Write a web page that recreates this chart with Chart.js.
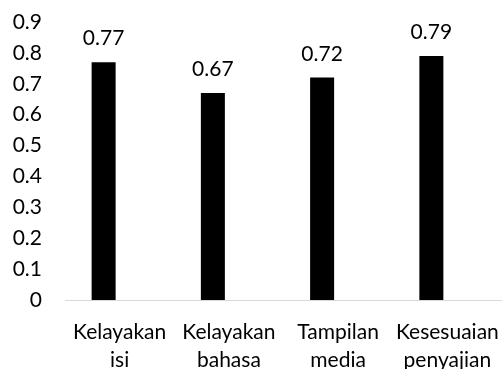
<!DOCTYPE html>
<html>
<head>
<meta charset="utf-8">
<script src="https://cdn.jsdelivr.net/npm/chart.js@4"></script>
<style>
  html, body { margin: 0; padding: 0; background: #fff; }
  #wrap { width: 502px; height: 369px; }
</style>
</head>
<body>
<div id="wrap"><canvas id="c" width="502" height="369"></canvas></div>
<script>
// Aspect categories (two-line labels) and their scores
const categories = [
  ['Kelayakan', 'isi'],
  ['Kelayakan', 'bahasa'],
  ['Tampilan', 'media'],
  ['Kesesuaian', 'penyajian']
];
const scores = [0.77, 0.67, 0.72, 0.79];
const yTicks = [0, 0.1, 0.2, 0.3, 0.4, 0.5, 0.6, 0.7, 0.8, 0.9];

const FONT = 'Lato, "Open Sans", sans-serif';
const FONT_SIZE = 21;

// Value labels above each bar of the score series
const valueLabels = {
  id: 'valueLabels',
  afterDatasetsDraw(chart) {
    const ctx = chart.ctx;
    const meta = chart.getDatasetMeta(0);
    ctx.save();
    ctx.font = FONT_SIZE + 'px ' + FONT;
    ctx.fillStyle = '#000';
    ctx.textAlign = 'center';
    ctx.textBaseline = 'alphabetic';
    meta.data.forEach((bar, i) => {
      ctx.fillText(scores[i].toFixed(2), bar.x, bar.y - 17);
    });
    ctx.restore();
  }
};

new Chart(document.getElementById('c'), {
  type: 'bar',
  data: {
    labels: categories,
    datasets: [
      {
        data: scores,
        backgroundColor: '#000000',
        borderWidth: 0,
        barPercentage: 0.75,
        categoryPercentage: 0.586
      },
      {
        // empty companion series: keeps each score bar in the left slot of its group
        data: categories.map(() => null),
        backgroundColor: 'rgba(0,0,0,0)',
        borderWidth: 0,
        barPercentage: 0.75,
        categoryPercentage: 0.586
      }
    ]
  },
  options: {
    responsive: false,
    animation: false,
    events: [],
    layout: { padding: { top: 22, right: 0, left: 0, bottom: 0 } },
    plugins: {
      legend: { display: false },
      tooltip: { enabled: false }
    },
    scales: {
      x: {
        grid: { display: false, drawTicks: false },
        border: { display: true, color: '#d9d9d9', width: 1 },
        ticks: {
          color: '#000',
          padding: 18,
          maxRotation: 0,
          autoSkip: false,
          font: { family: FONT, size: FONT_SIZE, lineHeight: 1.35 }
        },
        afterFit(scale) {
          scale.height = 69;
          scale.paddingLeft = 0;
          scale.paddingRight = 0;
        }
      },
      y: {
        min: 0,
        max: 0.9,
        grid: { display: false, drawTicks: false },
        border: { display: false },
        afterBuildTicks(scale) {
          scale.ticks = yTicks.map(v => ({ value: v }));
        },
        ticks: {
          color: '#000',
          padding: 23,
          font: { family: FONT, size: FONT_SIZE },
          callback: (v) => String(Math.round(v * 10) / 10)
        },
        afterFit(scale) {
          scale.width = 65;
          scale.paddingTop = 0;
          scale.paddingBottom = 0;
        }
      }
    }
  },
  plugins: [valueLabels]
});
</script>
</body>
</html>
